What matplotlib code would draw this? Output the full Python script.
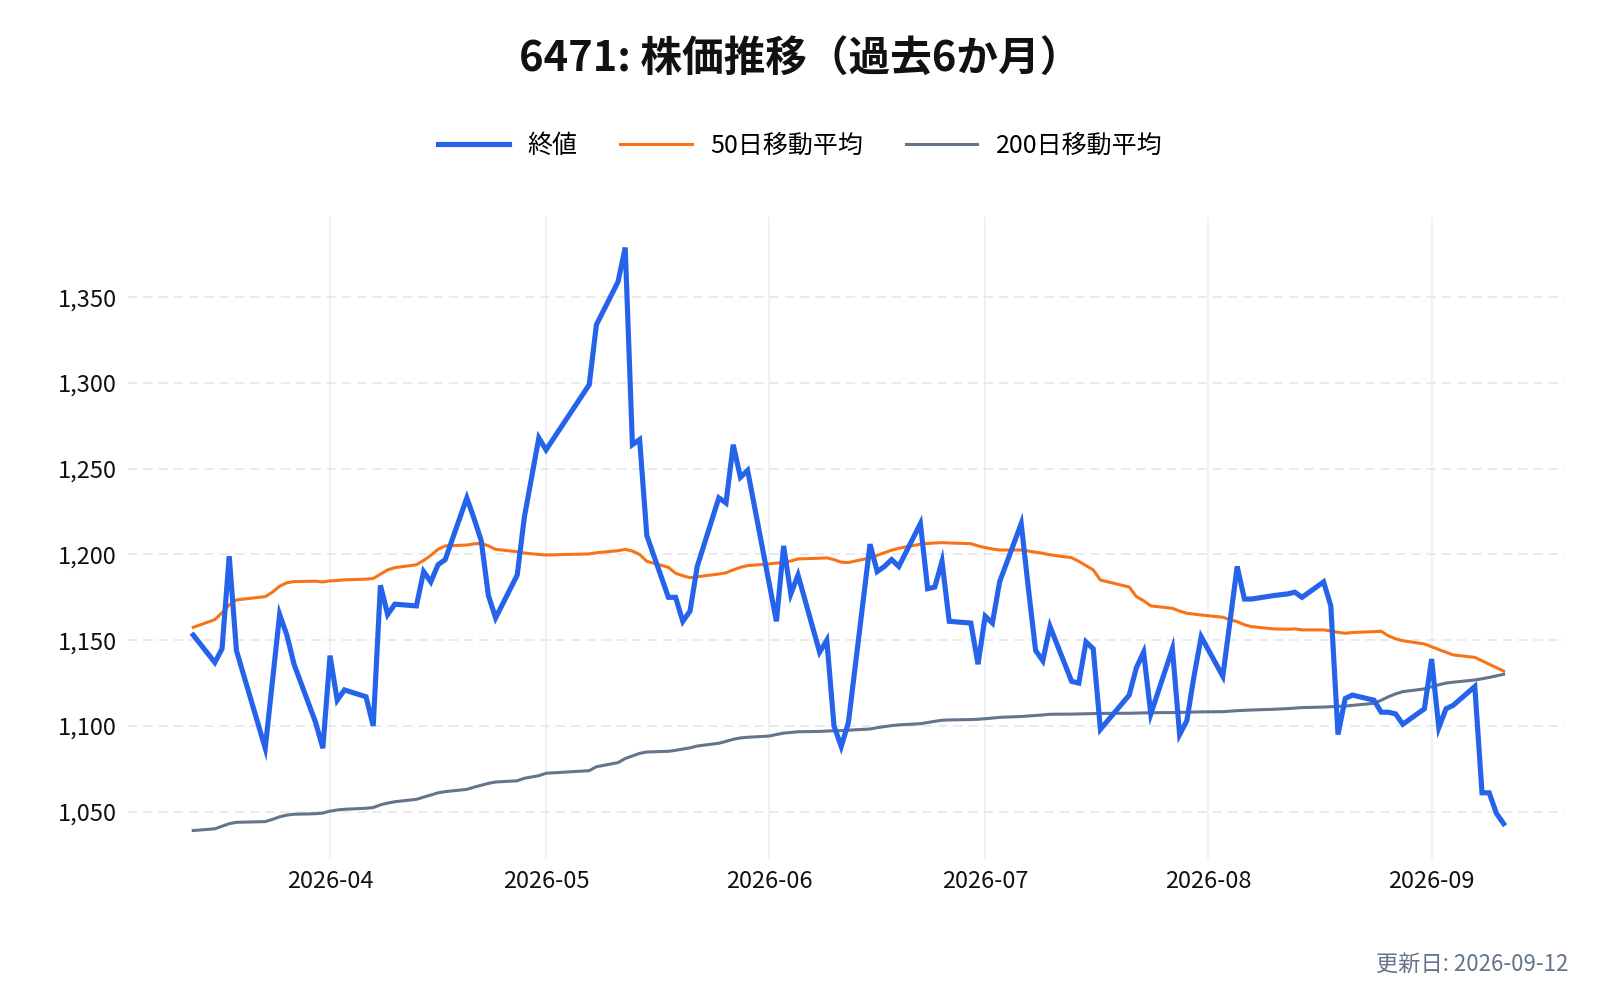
import numpy as np
import pandas as pd
import matplotlib
matplotlib.use("Agg")
import matplotlib.pyplot as plt
import matplotlib.dates as mdates
from matplotlib.ticker import FuncFormatter

plt.rcParams['font.family'] = ['Noto Sans CJK JP', 'DejaVu Sans']

# trading days (JP calendar)
dates = [
    "2026-03-13", "2026-03-16", "2026-03-17", "2026-03-18", "2026-03-19",
    "2026-03-23", "2026-03-24", "2026-03-25", "2026-03-26", "2026-03-27",
    "2026-03-30", "2026-03-31", "2026-04-01", "2026-04-02", "2026-04-03",
    "2026-04-06", "2026-04-07", "2026-04-08", "2026-04-09", "2026-04-10",
    "2026-04-13", "2026-04-14", "2026-04-15", "2026-04-16", "2026-04-17",
    "2026-04-20", "2026-04-21", "2026-04-22", "2026-04-23", "2026-04-24",
    "2026-04-27", "2026-04-28", "2026-04-30", "2026-05-01", "2026-05-07",
    "2026-05-08", "2026-05-11", "2026-05-12", "2026-05-13", "2026-05-14",
    "2026-05-15", "2026-05-18", "2026-05-19", "2026-05-20", "2026-05-21",
    "2026-05-22", "2026-05-25", "2026-05-26", "2026-05-27", "2026-05-28",
    "2026-05-29", "2026-06-01", "2026-06-02", "2026-06-03", "2026-06-04",
    "2026-06-05", "2026-06-08", "2026-06-09", "2026-06-10", "2026-06-11",
    "2026-06-12", "2026-06-15", "2026-06-16", "2026-06-17", "2026-06-18",
    "2026-06-19", "2026-06-22", "2026-06-23", "2026-06-24", "2026-06-25",
    "2026-06-26", "2026-06-29", "2026-06-30", "2026-07-01", "2026-07-02",
    "2026-07-03", "2026-07-06", "2026-07-07", "2026-07-08", "2026-07-09",
    "2026-07-10", "2026-07-13", "2026-07-14", "2026-07-15", "2026-07-16",
    "2026-07-17", "2026-07-21", "2026-07-22", "2026-07-23", "2026-07-24",
    "2026-07-27", "2026-07-28", "2026-07-29", "2026-07-30", "2026-07-31",
    "2026-08-03", "2026-08-04", "2026-08-05", "2026-08-06", "2026-08-07",
    "2026-08-10", "2026-08-12", "2026-08-13", "2026-08-14", "2026-08-17",
    "2026-08-18", "2026-08-19", "2026-08-20", "2026-08-21", "2026-08-24",
    "2026-08-25", "2026-08-26", "2026-08-27", "2026-08-28", "2026-08-31",
    "2026-09-01", "2026-09-02", "2026-09-03", "2026-09-04", "2026-09-07",
    "2026-09-08", "2026-09-09", "2026-09-10", "2026-09-11",
]

close = [
    1153, 1137, 1145, 1199, 1144,
    1087, 1126, 1165, 1153, 1136,
    1102, 1087, 1141, 1115, 1121,
    1117, 1100, 1182, 1165, 1171,
    1170, 1190, 1184, 1194, 1197,
    1233, 1221, 1208, 1176, 1163,
    1188, 1222, 1268, 1261, 1299,
    1334, 1359, 1379, 1264, 1267,
    1211, 1175, 1175, 1161, 1167,
    1193, 1233, 1230, 1264, 1245,
    1249, 1183, 1161, 1205, 1177,
    1188, 1143, 1150, 1100, 1088,
    1102, 1206, 1190, 1193, 1197,
    1193, 1218, 1180, 1181, 1196,
    1161, 1160, 1136, 1164, 1160,
    1184, 1218, 1180, 1144, 1138,
    1158, 1126, 1125, 1149, 1145,
    1098, 1118, 1134, 1143, 1107,
    1145, 1095, 1103, 1129, 1152,
    1129, 1161, 1193, 1174, 1174,
    1176, 1177, 1178, 1175, 1184,
    1170, 1095, 1116, 1118, 1115,
    1108, 1108, 1107, 1101, 1110,
    1139, 1099, 1110, 1112, 1123,
    1061, 1061, 1049, 1043,
]

ma50 = [
    1157.5, 1162.0, 1166.0, 1170.5, 1173.5,
    1175.4, 1178.0, 1181.5, 1183.5, 1184.2,
    1184.4, 1184.0, 1184.6, 1184.8, 1185.2,
    1185.6, 1186.0, 1188.5, 1191.0, 1192.3,
    1194.0, 1196.5, 1199.5, 1203.0, 1205.0,
    1205.5, 1206.2, 1206.5, 1205.0, 1203.0,
    1201.6, 1200.8, 1200.0, 1199.7, 1200.3,
    1201.0, 1202.2, 1203.0, 1202.0, 1200.0,
    1196.0, 1192.5, 1189.0, 1187.6, 1186.5,
    1187.0, 1188.6, 1189.3, 1191.0, 1192.5,
    1193.5, 1194.5, 1195.0, 1195.3, 1196.2,
    1197.4, 1197.8, 1198.0, 1197.0, 1195.5,
    1195.3, 1198.0, 1199.5, 1201.0, 1202.5,
    1203.6, 1206.0, 1206.4, 1206.7, 1206.9,
    1206.7, 1206.3, 1205.0, 1204.0, 1203.2,
    1202.6, 1202.6, 1202.0, 1201.3, 1200.7,
    1199.8, 1198.1, 1196.0, 1193.5, 1191.0,
    1185.1, 1181.0, 1175.4, 1173.0, 1170.0,
    1168.6, 1167.0, 1165.7, 1165.2, 1164.7,
    1163.4, 1162.0, 1160.8, 1159.0, 1157.9,
    1156.6, 1156.4, 1156.6, 1156.0, 1156.0,
    1155.4, 1154.6, 1154.0, 1154.5, 1155.0,
    1155.2, 1152.5, 1150.8, 1149.7, 1147.8,
    1146.2, 1144.5, 1143.0, 1141.4, 1140.0,
    1138.0, 1136.0, 1134.0, 1132.0,
]

ma200 = [
    1039.0, 1040.0, 1041.5, 1043.0, 1043.8,
    1044.2, 1045.5, 1047.0, 1048.0, 1048.5,
    1048.8, 1049.2, 1050.3, 1051.0, 1051.4,
    1052.0, 1052.4, 1054.0, 1055.0, 1055.8,
    1057.2, 1058.5, 1059.7, 1061.0, 1061.7,
    1063.0, 1064.3, 1065.4, 1066.5, 1067.3,
    1068.0, 1069.5, 1071.0, 1072.4, 1073.9,
    1076.2, 1078.6, 1081.0, 1082.5, 1084.0,
    1084.8, 1085.2, 1085.8, 1086.5, 1087.2,
    1088.3, 1089.9, 1091.0, 1092.2, 1093.0,
    1093.4, 1094.1, 1095.0, 1095.8, 1096.2,
    1096.6, 1096.8, 1097.0, 1097.2, 1097.3,
    1097.5, 1098.2, 1099.0, 1099.6, 1100.2,
    1100.6, 1101.3, 1102.0, 1102.7, 1103.3,
    1103.5, 1103.7, 1103.9, 1104.2, 1104.6,
    1105.0, 1105.5, 1105.8, 1106.1, 1106.4,
    1106.8, 1106.9, 1107.0, 1107.1, 1107.2,
    1107.3, 1107.4, 1107.5, 1107.6, 1107.7,
    1107.8, 1107.9, 1108.0, 1108.1, 1108.2,
    1108.3, 1108.6, 1108.9, 1109.1, 1109.3,
    1109.7, 1110.1, 1110.4, 1110.7, 1111.0,
    1111.2, 1111.4, 1111.6, 1112.0, 1113.2,
    1115.0, 1117.0, 1118.7, 1120.0, 1121.6,
    1122.9, 1124.0, 1125.0, 1125.5, 1126.8,
    1127.5, 1128.3, 1129.2, 1130.1,
]

labels = ["終値", "50日移動平均", "200日移動平均"]
title = "6471: 株価推移（過去6か月）"
updated = "更新日: 2026-09-12"

x = pd.to_datetime(dates)

fig = plt.figure(figsize=(16, 10), dpi=100)
ax = fig.add_axes([0.08, 0.141, 0.898, 0.642])

ax.plot(x, close, color="#2563eb", lw=3.7, label=labels[0], solid_joinstyle="miter", zorder=3)
ax.plot(x, ma50, color="#f97316", lw=2.2, label=labels[1], zorder=2)
ax.plot(x, ma200, color="#64748b", lw=2.2, label=labels[2], zorder=2)

x0 = pd.Timestamp("2026-04-01")
ax.set_xlim(x0 - pd.Timedelta(days=28.06), x0 + pd.Timedelta(days=171.5))
ax.set_ylim(1022.4, 1396.8)

ax.set_yticks([1050, 1100, 1150, 1200, 1250, 1300, 1350])
ax.yaxis.set_major_formatter(FuncFormatter(lambda v, p: f"{int(v):,}"))
ax.xaxis.set_major_locator(mdates.MonthLocator())
ax.xaxis.set_major_formatter(mdates.DateFormatter("%Y-%m"))

for s in ax.spines.values():
    s.set_visible(False)
ax.tick_params(axis="both", length=0, labelsize=17, colors="#111111")
ax.tick_params(axis="y", pad=8)
ax.tick_params(axis="x", pad=8)

ax.grid(axis="y", color="#e3e4ea", lw=1.1, linestyle=(0, (6, 4)))
ax.grid(axis="x", color="#eef1f5", lw=1.3)
ax.set_axisbelow(True)

fig.text(0.5, 0.940, title, ha="center", va="center", fontsize=30,
         fontweight="bold", color="#111111")

fig.legend(loc="center", bbox_to_anchor=(0.5, 0.854), ncol=3, frameon=False,
           fontsize=18, handlelength=2.85, handletextpad=0.75, columnspacing=1.7)

fig.text(0.980, 0.036, updated, ha="right", va="center", fontsize=16, color="#64748b")

fig.savefig("out.png", dpi=100)
